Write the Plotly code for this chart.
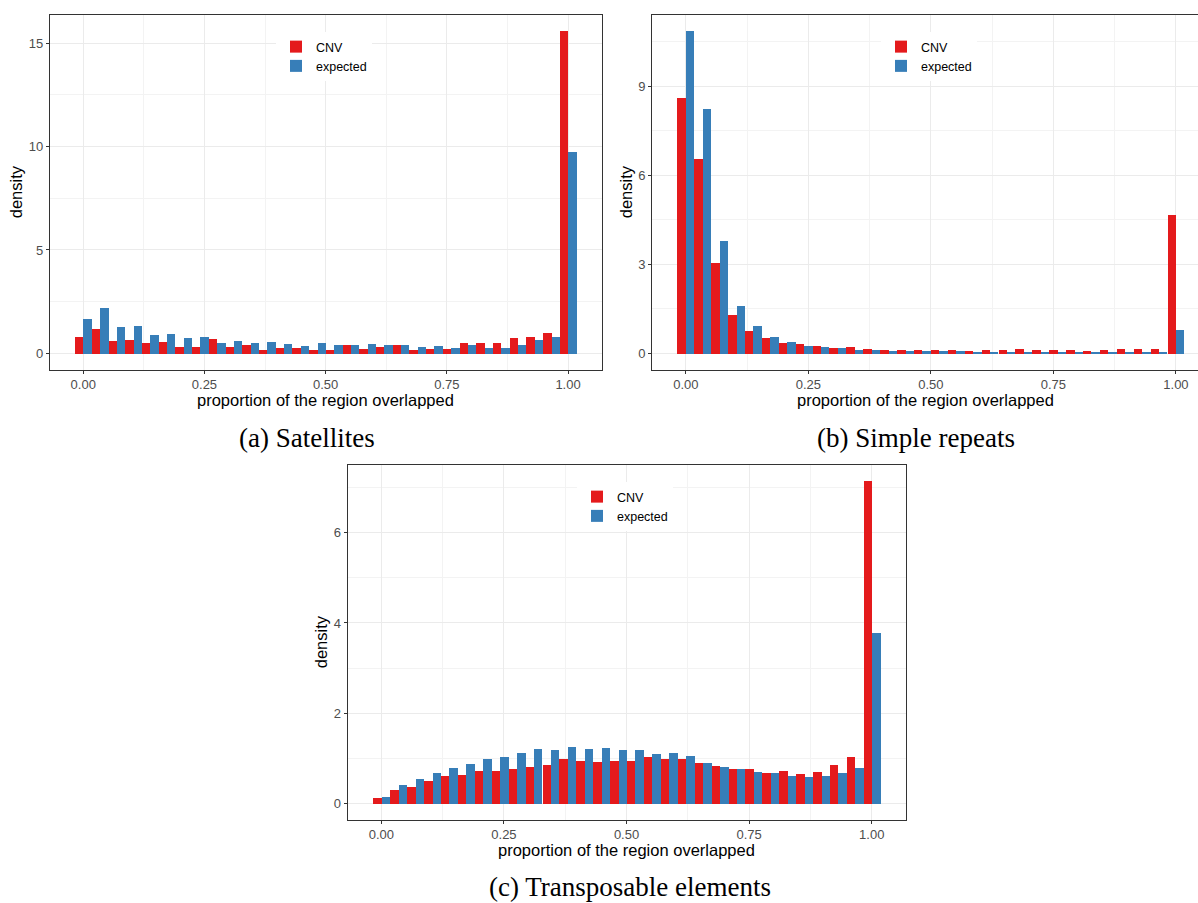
import plotly.graph_objects as go

# ---------------- data ----------------
bin_centers = [0.0, 0.0345, 0.069, 0.1034, 0.1379, 0.1724, 0.2069, 0.2414, 0.2759, 0.3103,
               0.3448, 0.3793, 0.4138, 0.4483, 0.4828, 0.5172, 0.5517, 0.5862, 0.6207, 0.6552,
               0.6897, 0.7241, 0.7586, 0.7931, 0.8276, 0.8621, 0.8966, 0.931, 0.9655, 1.0]

sat_cnv = [0.81, 1.20, 0.62, 0.66, 0.52, 0.57, 0.32, 0.32, 0.71, 0.32,
           0.42, 0.18, 0.27, 0.27, 0.18, 0.18, 0.42, 0.23, 0.32, 0.42,
           0.18, 0.23, 0.23, 0.52, 0.52, 0.52, 0.76, 0.81, 1.00, 15.6]
sat_exp = [1.68, 2.22, 1.29, 1.34, 0.91, 0.96, 0.76, 0.81, 0.52, 0.61,
           0.52, 0.57, 0.47, 0.37, 0.52, 0.42, 0.42, 0.47, 0.42, 0.42,
           0.32, 0.37, 0.27, 0.42, 0.27, 0.27, 0.42, 0.66, 0.81, 9.76]

rep_cnv = [8.61, 6.55, 3.04, 1.30, 0.76, 0.53, 0.36, 0.33, 0.26, 0.19,
           0.22, 0.16, 0.12, 0.12, 0.13, 0.13, 0.13, 0.10, 0.13, 0.13,
           0.17, 0.13, 0.13, 0.13, 0.10, 0.13, 0.17, 0.17, 0.17, 4.66]
rep_exp = [10.86, 8.24, 3.78, 1.60, 0.93, 0.56, 0.39, 0.26, 0.22, 0.19,
           0.12, 0.12, 0.09, 0.09, 0.10, 0.10, 0.10, 0.07, 0.07, 0.07,
           0.07, 0.07, 0.07, 0.07, 0.07, 0.07, 0.07, 0.03, 0.03, 0.81]

te_cnv = [0.125, 0.30, 0.37, 0.50, 0.61, 0.63, 0.72, 0.72, 0.77, 0.81,
          0.85, 0.99, 0.94, 0.92, 0.94, 0.94, 1.03, 0.99, 0.99, 0.90,
          0.83, 0.77, 0.77, 0.68, 0.72, 0.66, 0.70, 0.85, 1.03, 7.15]
te_exp = [0.147, 0.41, 0.545, 0.68, 0.79, 0.88, 0.99, 1.03, 1.12, 1.21,
          1.19, 1.25, 1.21, 1.23, 1.19, 1.19, 1.10, 1.12, 1.05, 0.90,
          0.81, 0.77, 0.70, 0.68, 0.61, 0.59, 0.61, 0.68, 0.79, 3.79]

series_names = ["CNV", "expected"]
x_ticks = [0.0, 0.25, 0.5, 0.75, 1.0]
x_ticklabels = ["0.00", "0.25", "0.50", "0.75", "1.00"]
x_title = "proportion of the region overlapped"
y_title = "density"
captions = ["(a) Satellites", "(b) Simple repeats", "(c) Transposable elements"]

# ---------------- style / layout ----------------
W, H = 1198, 903
RED, BLUE = "#E41A1C", "#377EB8"
SANS = "Liberation Sans, Arial, sans-serif"
SERIF = "Liberation Serif, Times New Roman, serif"


def px_x(p):
    return p / W


def px_y(p):
    return 1 - p / H


panels = [
    dict(cnv=sat_cnv, exp=sat_exp, xd=[px_x(49.8), px_x(601.5)], yd=[px_y(369.5), px_y(14.7)],
         xr=[-0.069, 1.069], ydt=5, mirror_y=True, xt_y=400,
         leg=dict(x=px_x(276), y=px_y(32)), cap=(307, 438)),
    dict(cnv=rep_cnv, exp=rep_exp, xd=[px_x(652), 1.0], yd=[px_y(369.5), px_y(14.7)],
         xr=[-0.069, 1.045], ydt=3, mirror_y=False, xt_y=400,
         leg=dict(x=px_x(881), y=px_y(32)), cap=(916, 438)),
    dict(cnv=te_cnv, exp=te_exp, xd=[px_x(347.5), px_x(905.6)], yd=[px_y(819.6), px_y(464.7)],
         xr=[-0.069, 1.069], ydt=2, mirror_y=True, xt_y=850,
         leg=dict(x=px_x(577), y=px_y(482)), cap=(630, 887)),
]

fig = go.Figure()
layout = dict(
    width=W, height=H,
    margin=dict(l=0, r=0, t=0, b=0),
    paper_bgcolor="white", plot_bgcolor="white",
    barmode="group", bargap=0, bargroupgap=0,
    font=dict(family=SANS, color="black"),
    annotations=[],
)

for i, p in enumerate(panels):
    sfx = "" if i == 0 else str(i + 1)
    legname = "legend" + sfx
    ymax = max(max(p["cnv"]), max(p["exp"]))
    for name, vals, col in zip(series_names, [p["cnv"], p["exp"]], [RED, BLUE]):
        fig.add_trace(go.Bar(
            x=bin_centers, y=vals, name=name,
            marker=dict(color=col, line=dict(width=0)),
            xaxis="x" + sfx, yaxis="y" + sfx, legend=legname,
            showlegend=True, hoverinfo="x+y",
        ))
    layout["xaxis" + sfx] = dict(
        domain=p["xd"], anchor="y" + sfx, range=p["xr"],
        tickmode="array", tickvals=x_ticks, ticktext=x_ticklabels,
        ticks="outside", ticklen=3, tickwidth=1, tickcolor="#333333",
        tickfont=dict(size=13, color="#4D4D4D", family=SANS),
        showgrid=True, gridcolor="#EBEBEB", gridwidth=1,
        minor=dict(dtick=0.125, tick0=0, showgrid=True, gridcolor="#F3F3F3", gridwidth=0.6, ticks=""),
        showline=True, linecolor="#333333", linewidth=1, mirror=True,
        zeroline=False, automargin=False,
    )
    layout["yaxis" + sfx] = dict(
        domain=p["yd"], anchor="x" + sfx, range=[-0.05 * ymax, 1.05 * ymax],
        dtick=p["ydt"], tick0=0,
        ticks="outside", ticklen=3, tickwidth=1, tickcolor="#333333",
        tickfont=dict(size=13, color="#4D4D4D", family=SANS),
        showgrid=True, gridcolor="#EBEBEB", gridwidth=1,
        minor=dict(dtick=p["ydt"] / 2, tick0=0, showgrid=True, gridcolor="#F3F3F3", gridwidth=0.6, ticks=""),
        showline=True, linecolor="#333333", linewidth=1, mirror=p["mirror_y"],
        zeroline=False, automargin=False,
        title=dict(text=y_title, font=dict(size=16.5, color="black", family=SANS), standoff=1),
    )
    layout[legname] = dict(
        x=p["leg"]["x"], y=p["leg"]["y"], xanchor="left", yanchor="top",
        xref="paper", yref="paper",
        bgcolor="white", borderwidth=0, tracegroupgap=0,
        font=dict(size=12.5, color="black", family=SANS),
        itemwidth=30,
    )
    # x-axis title
    layout["annotations"].append(dict(
        text=x_title, x=0.5, xref="x" + sfx + " domain", y=px_y(p["xt_y"]), yref="paper",
        xanchor="center", yanchor="middle", showarrow=False,
        font=dict(size=16.5, color="black", family=SANS),
    ))
    cx, cy = p["cap"]
    layout["annotations"].append(dict(
        text=captions[i], x=px_x(cx), y=px_y(cy), xref="paper", yref="paper",
        xanchor="center", yanchor="middle", showarrow=False,
        font=dict(size=27, color="black", family=SERIF),
    ))

fig.update_layout(**layout)
fig.write_html("out.html")
